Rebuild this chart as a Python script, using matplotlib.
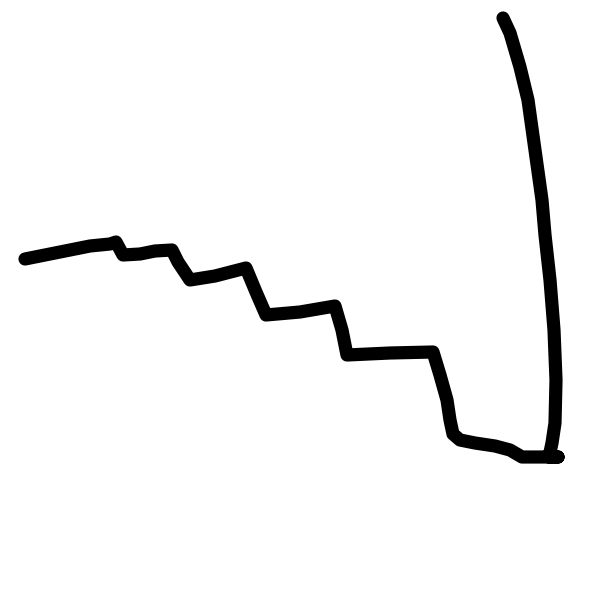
import matplotlib
matplotlib.use("Agg")
import matplotlib.pyplot as plt
import numpy as np

# Data (stroke points, image pixel coordinates)
x = np.array([25, 60, 90, 110, 116, 123, 140, 155, 172, 178, 190, 215, 246,
              256, 266, 300, 335, 342, 347, 390, 433, 440, 447, 450, 453,
              460, 475, 495, 510, 522, 535, 558, 549, 552, 555, 556, 554,
              550, 545, 542, 535, 528, 520, 510, 503])
y = np.array([259, 252, 246, 244, 242, 255, 254, 251, 250, 262, 280, 276, 268,
              292, 315, 312, 306, 330, 355, 353, 352, 375, 400, 420, 434,
              440, 443, 446, 450, 457, 457, 457, 457, 443, 423, 380, 330,
              280, 235, 200, 150, 100, 67, 33, 18])

# Plot settings
fig = plt.figure(figsize=(6, 6), dpi=100)
ax = fig.add_axes([0, 0, 1, 1])

ax.plot(x, y, color="black", linewidth=9.5, solid_capstyle="round",
        solid_joinstyle="round")

ax.set_xlim(0, 600)
ax.set_ylim(600, 0)
ax.axis("off")

fig.savefig("out.png", dpi=100, facecolor="white")
